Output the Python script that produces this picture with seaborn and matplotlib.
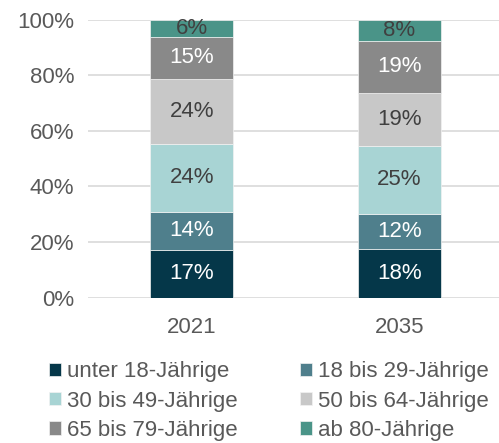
import numpy as np
import pandas as pd
import matplotlib
matplotlib.use("Agg")
import matplotlib.pyplot as plt
import seaborn as sns

# daten (anteile in %)
jahre = ["2021", "2035"]
gruppen = ["unter 18-Jährige", "18 bis 29-Jährige", "30 bis 49-Jährige",
           "50 bis 64-Jährige", "65 bis 79-Jährige", "ab 80-Jährige"]
werte_2021 = [17.3, 13.7, 24.2, 23.6, 15.0, 6.2]
werte_2035 = [17.6, 12.4, 24.7, 18.9, 18.8, 7.6]

farben = ["#053749", "#4f7f8c", "#a8d4d4", "#c8c8c8", "#898989", "#4a9488"]
textfarben = ["white", "white", "#404040", "#404040", "white", "#404040"]

sns.set_style("white")
plt.rcParams["font.family"] = ["Liberation Sans", "DejaVu Sans"]

df = pd.DataFrame({"Jahr": jahre * len(gruppen),
                   "Gruppe": np.repeat(gruppen, len(jahre)),
                   "Wert": [w for pair in zip(werte_2021, werte_2035) for w in pair]})

fig = plt.figure(figsize=(4.99, 4.43), dpi=100)
ax = fig.add_axes([88 / 499, 1 - 297.7 / 443, 1 - 88 / 499, (297.7 - 19.7) / 443])

unten = np.zeros(len(jahre))
for gruppe, farbe, tfarbe in zip(gruppen, farben, textfarben):
    teil = df[df["Gruppe"] == gruppe]
    sns.barplot(data=teil, x="Jahr", y="Wert", color=farbe, width=0.4,
                bottom=unten, ax=ax, label=gruppe, saturation=1, errorbar=None,
                edgecolor="#f2f2f2", linewidth=0.5)
    ax.bar_label(ax.containers[-1], labels=[f"{v:.0f}%" for v in teil["Wert"]],
                 label_type="center", color=tfarbe, fontsize=16)
    unten = unten + teil["Wert"].values

ax.set_ylim(0, 100)
ax.set_xlim(-0.5, 1.48)
ax.set_yticks(range(0, 101, 20))
ax.set_yticklabels([f"{t}%" for t in range(0, 101, 20)])
ax.yaxis.grid(True, color="#d9d9d9", linewidth=1.2)
ax.set_axisbelow(True)
ax.tick_params(axis="both", length=0, labelsize=16, labelcolor="#595959")
ax.tick_params(axis="y", pad=10)
ax.tick_params(axis="x", pad=14)
ax.set_xlabel("")
ax.set_ylabel("")
for s in ax.spines.values():
    s.set_visible(False)

# legende zeilenweise
handles, labels = ax.get_legend_handles_labels()
reihenfolge = [0, 2, 4, 1, 3, 5]
if ax.legend_:
    ax.legend_.remove()
fig.legend([handles[i] for i in reihenfolge], [labels[i] for i in reihenfolge],
           ncol=2, loc="lower left", bbox_to_anchor=(47 / 499, 0.0),
           frameon=False, fontsize=16, labelcolor="#595959",
           handlelength=0.55, handleheight=0.55, handletextpad=0.25,
           columnspacing=2.8, labelspacing=0.37, borderpad=0.1, borderaxespad=0)

fig.savefig("out.png", dpi=100)
